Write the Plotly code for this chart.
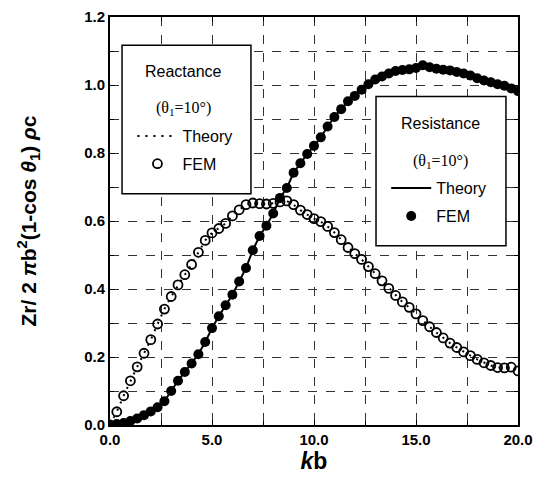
import plotly.graph_objects as go

kb = [round(i / 3, 3) for i in range(61)]

reactance_fem = [
    0.000, 0.039, 0.086, 0.130, 0.171, 0.211, 0.251, 0.297, 0.341, 0.378,
    0.412, 0.442, 0.472, 0.508, 0.543, 0.565, 0.578, 0.593, 0.615, 0.633,
    0.648, 0.653, 0.651, 0.650, 0.652, 0.656, 0.659, 0.648, 0.632, 0.619,
    0.607, 0.598, 0.584, 0.566, 0.545, 0.522, 0.504, 0.487, 0.466, 0.445,
    0.424, 0.402, 0.381, 0.362, 0.346, 0.327, 0.307, 0.289, 0.272, 0.256,
    0.241, 0.228, 0.215, 0.204, 0.193, 0.183, 0.175, 0.169, 0.168, 0.170,
    0.159,
]
reactance_theory = reactance_fem

resistance_fem = [
    0.000, 0.003, 0.006, 0.012, 0.019, 0.029, 0.040, 0.052, 0.070, 0.100,
    0.130, 0.156, 0.181, 0.208, 0.244, 0.285, 0.320, 0.352, 0.383, 0.422,
    0.462, 0.514, 0.556, 0.586, 0.622, 0.668, 0.697, 0.742, 0.770, 0.797,
    0.821, 0.846, 0.878, 0.906, 0.929, 0.952, 0.968, 0.986, 1.002, 1.016,
    1.025, 1.034, 1.041, 1.044, 1.046, 1.050, 1.058, 1.052, 1.048, 1.045,
    1.043, 1.038, 1.034, 1.028, 1.020, 1.013, 1.008, 1.002, 0.998, 0.990,
    0.982,
]
resistance_theory = resistance_fem

x_ticks = [0, 5, 10, 15, 20]
x_tick_text = ["0.0", "5.0", "10.0", "15.0", "20.0"]
y_ticks = [0, 0.2, 0.4, 0.6, 0.8, 1.0, 1.2]
y_tick_text = ["0.0", "0.2", "0.4", "0.6", "0.8", "1.0", "1.2"]

SANS = "Liberation Sans, Arial, sans-serif"
SERIF = "Liberation Serif, Times New Roman, serif"

fig = go.Figure()

fig.add_trace(go.Scatter(x=kb, y=reactance_theory, mode="lines", name="Theory",
                         line=dict(color="black", width=2, dash="2px,6px"),
                         legend="legend", legendgroup="r1"))
fig.add_trace(go.Scatter(x=kb, y=reactance_fem, mode="markers", name="FEM",
                         marker=dict(symbol="circle-open", size=9, color="black",
                                     line=dict(width=1.8, color="black")),
                         legend="legend", legendgroup="r2"))
fig.add_trace(go.Scatter(x=kb, y=resistance_theory, mode="lines", name="Theory",
                         line=dict(color="black", width=2),
                         legend="legend2", legendgroup="s1"))
fig.add_trace(go.Scatter(x=kb, y=resistance_fem, mode="markers", name="FEM",
                         marker=dict(symbol="circle", size=10, color="black"),
                         legend="legend2", legendgroup="s2"))

# white boxes framing the two legends
fig.add_shape(type="rect", xref="x", yref="y", x0=0.59, x1=6.91, y0=0.68, y1=1.117,
              fillcolor="white", line=dict(color="black", width=1.5), layer="between")
fig.add_shape(type="rect", xref="x", yref="y", x0=13.04, x1=19.41, y0=0.527, y1=0.966,
              fillcolor="white", line=dict(color="black", width=1.5), layer="between")

fig.add_annotation(x=3.58, y=1.04, text="Reactance", showarrow=False,
                   font=dict(family=SANS, size=16, color="black"))
fig.add_annotation(x=3.58, y=0.93, text="(θ<sub>1</sub>=10°)", showarrow=False,
                   font=dict(family=SERIF, size=16, color="black"))
fig.add_annotation(x=16.2, y=0.886, text="Resistance", showarrow=False,
                   font=dict(family=SANS, size=16, color="black"))
fig.add_annotation(x=16.2, y=0.776, text="(θ<sub>1</sub>=10°)", showarrow=False,
                   font=dict(family=SERIF, size=16, color="black"))

leg_common = dict(bgcolor="rgba(0,0,0,0)", borderwidth=0, tracegroupgap=4,
                  font=dict(family=SANS, size=16, color="black"),
                  xanchor="left", yanchor="top", itemwidth=40)

axis_common = dict(showline=True, linecolor="black", linewidth=2, mirror="allticks",
                   ticks="inside", ticklen=5, tickcolor="black", automargin=False,
                   showgrid=True, gridcolor="#333", gridwidth=1, griddash="dash",
                   zeroline=False,
                   tickfont=dict(family=SANS, size=15, color="black", weight="bold"))

# the page has an 8px body margin, so the figure is sized to fit inside it
fig.update_layout(
    width=527, height=477,
    margin=dict(l=102, r=17, t=9, b=60),
    plot_bgcolor="white", paper_bgcolor="white",
    showlegend=True,
    legend=dict(x=0.055, y=0.75, **leg_common),
    legend2=dict(x=0.677, y=0.622, **leg_common),
    xaxis=dict(range=[0, 20], tickvals=x_ticks, ticktext=x_tick_text,
               minor=dict(dtick=2.5, showgrid=True, gridcolor="#333", griddash="dash",
                          ticks="inside", ticklen=4, tickcolor="black"),
               title=dict(text="<i>k</i>b",
                          font=dict(family=SANS, size=23, color="black", weight="bold"),
                          standoff=2),
               **axis_common),
    yaxis=dict(range=[0, 1.2], tickvals=y_ticks, ticktext=y_tick_text,
               minor=dict(dtick=0.1, showgrid=True, gridcolor="#333", griddash="dash",
                          ticks="inside", ticklen=4, tickcolor="black"),
               title=dict(text="Zr/ 2 <i>π</i>b<sup>2</sup>(1-cos <i>θ</i><sub>1</sub>) <i>ρ</i>c",
                          font=dict(family=SANS, size=21, color="black", weight="bold"),
                          standoff=42),
               **axis_common),
)

fig.write_html("out.html")
